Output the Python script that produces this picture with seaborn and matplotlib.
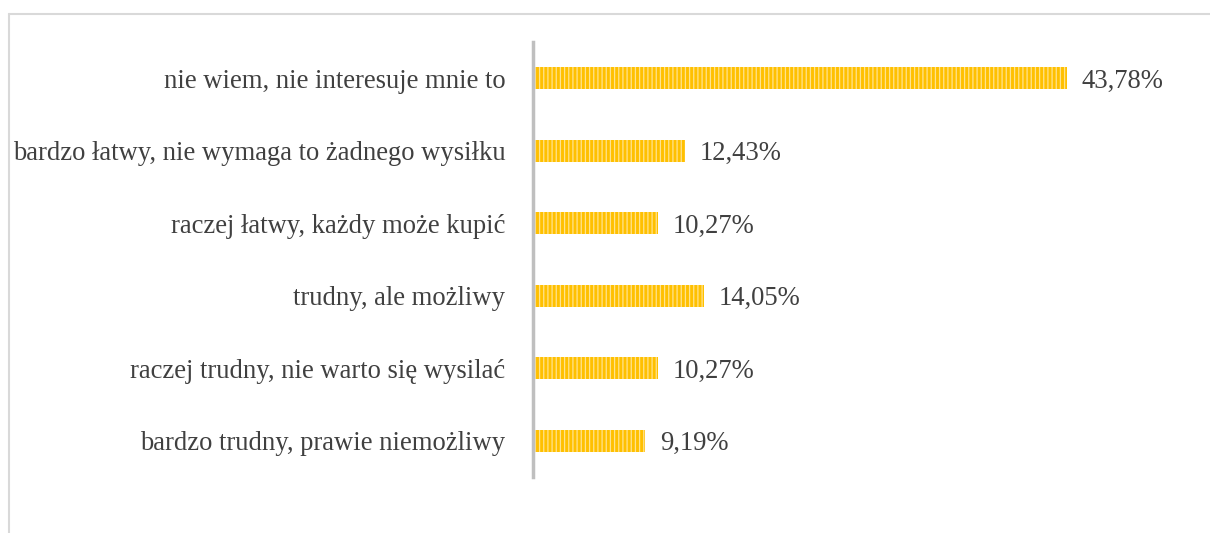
import matplotlib
matplotlib.use("Agg")
import matplotlib.pyplot as plt
import seaborn as sns
import pandas as pd
from matplotlib.lines import Line2D

categories = [
    "nie wiem, nie interesuje mnie to",
    "bardzo łatwy, nie wymaga to żadnego wysiłku",
    "raczej łatwy, każdy może kupić",
    "trudny, ale możliwy",
    "raczej trudny, nie warto się wysilać",
    "bardzo trudny, prawie niemożliwy",
]
values = [43.78, 12.43, 10.27, 14.05, 10.27, 9.19]
value_labels = ["43,78%", "12,43%", "10,27%", "14,05%", "10,27%", "9,19%"]

sns.set_style("white")
plt.rcParams["font.family"] = ["Liberation Serif", "DejaVu Serif"]
plt.rcParams["hatch.linewidth"] = 0.9

W, H = 1210, 533
fig = plt.figure(figsize=(W / 100, H / 100), dpi=100)
ax_left, ax_right = 533 / W, 1180 / W
ax_bottom, ax_top = 1 - 477 / H, 1 - 42 / H
ax = fig.add_axes([ax_left, ax_bottom, ax_right - ax_left, ax_top - ax_bottom])

df = pd.DataFrame({"cat": categories, "val": values})
sns.barplot(data=df, y="cat", x="val", orient="h", color="#FFC000",
            width=0.30, ax=ax, saturation=1)
for p in ax.patches:
    p.set_facecolor("#FFC000")
    p.set_edgecolor("#FFE38F")
    p.set_hatch("||||")
    p.set_linewidth(0)

ax.set_xlim(0, (1180 - 533) / 12.2)
ax.set_ylim(5.5, -0.5)
ax.set_xlabel("")
ax.set_ylabel("")
ax.set_xticks([])
for s in ["top", "right", "bottom"]:
    ax.spines[s].set_visible(False)
ax.spines["left"].set_color("#BFBFBF")
ax.spines["left"].set_linewidth(2.5)
ax.tick_params(axis="y", length=0, pad=20, labelsize=19.2, labelcolor="#404040")

for i, (v, lab) in enumerate(zip(values, value_labels)):
    ax.text(v + 1.2, i + 0.04, lab, va="center", ha="left", fontsize=19.2, color="#404040")

# outer frame
fig.add_artist(Line2D([9 / W, 9 / W], [0, 1 - 14 / H], transform=fig.transFigure,
                      color="#D9D9D9", lw=1.5))
fig.add_artist(Line2D([9 / W, 1], [1 - 14 / H, 1 - 14 / H], transform=fig.transFigure,
                      color="#D9D9D9", lw=1.5))

fig.savefig("out.png", dpi=100, facecolor="white")
